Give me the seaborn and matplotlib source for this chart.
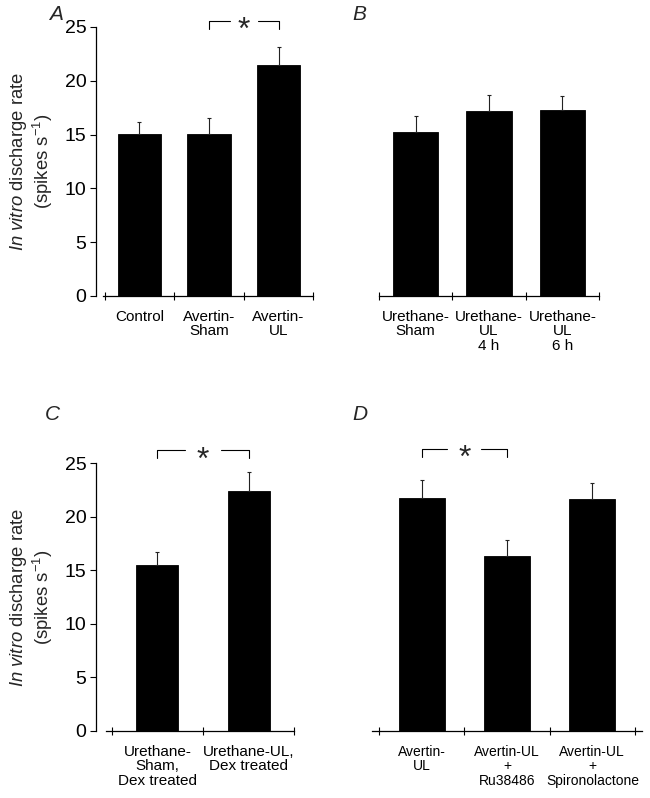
import matplotlib
matplotlib.use("Agg")
import matplotlib.pyplot as plt
import matplotlib.transforms as mtransforms
import seaborn as sns
import pandas as pd
import numpy as np

sns.set_theme(style="white")
plt.rcParams['font.family'] = ['Liberation Sans', 'DejaVu Sans']
plt.rcParams['mathtext.fontset'] = 'custom'
plt.rcParams['mathtext.rm'] = 'Liberation Sans'
plt.rcParams['mathtext.it'] = 'Liberation Sans:italic'

# ---- data ----
cats_a = ["Control", "Avertin-\nSham", "Avertin-\nUL"]
vals_a = [15.1, 15.1, 21.45]
errs_a = [1.1, 1.45, 1.7]

cats_b = ["Urethane-\nSham", "Urethane-\nUL\n4 h", "Urethane-\nUL\n6 h"]
vals_b = [15.25, 17.15, 17.3]
errs_b = [1.45, 1.5, 1.3]

cats_c = ["Urethane-\nSham,\nDex treated", "Urethane-UL,\nDex treated"]
vals_c = [15.5, 22.45]
errs_c = [1.25, 1.75]

cats_d = ["Avertin-\nUL", "Avertin-UL\n+\nRu38486", "Avertin-UL\n+\nSpironolactone"]
vals_d = [21.8, 16.3, 21.7]
errs_d = [1.65, 1.5, 1.5]

# significance brackets: (first category index, second category index, top level, end level)
sig_a = [(1, 2, 25.55, 24.8)]
sig_c = [(0, 1, 26.2, 25.5)]
sig_d = [(0, 1, 26.3, 25.6)]

y_ticks = [0, 5, 10, 15, 20, 25]
ylabel = "$\\it{In\\ vitro}$ discharge rate\n(spikes s$^{-1}$)"

W, H = 650, 798
fig = plt.figure(figsize=(W / 100, H / 100), dpi=100)


def axes_px(x0, x1, y_bottom, y_top):
    return fig.add_axes([x0 / W, 1 - y_bottom / H, (x1 - x0) / W, (y_bottom - y_top) / H])


def panel(ax, cats, vals, errs, width, xpad, show_y, sigs, xline_start=None, xfs=11.0):
    df = pd.DataFrame({"cat": cats, "val": vals})
    sns.barplot(data=df, x="cat", y="val", color="black", saturation=1,
                errorbar=None, width=width, ax=ax, edgecolor="black", linewidth=0.6)
    x = np.arange(len(cats))
    ax.errorbar(x, vals, yerr=[np.zeros(len(errs)), errs], fmt="none",
                ecolor="#222222", elinewidth=0.8, capsize=1.6, capthick=0.8)
    n = len(cats)
    ax.set_xlim(-0.5 - xpad, n - 0.5 + xpad)
    ax.set_ylim(0, 25)
    for s in ["top", "right"]:
        ax.spines[s].set_visible(False)
    ax.spines["bottom"].set_linewidth(0.9)
    ax.spines["bottom"].set_color("black")
    if xline_start is not None:
        ax.spines["bottom"].set_bounds(xline_start, n - 0.5)
    ax.set_xticks(x)
    ax.set_xticklabels(cats, fontsize=xfs, linespacing=1.05)
    ax.tick_params(axis="x", which="major", length=0, pad=10, colors="black")
    ax.set_xticks(np.arange(n + 1) - 0.5, minor=True)
    ax.tick_params(axis="x", which="minor", direction="inout", length=5.5, width=0.8,
                   color="black", bottom=True)
    ax.set_xlabel("")
    if show_y:
        ax.spines["left"].set_linewidth(0.9)
        ax.spines["left"].set_color("black")
        ax.set_yticks(y_ticks)
        ax.tick_params(axis="y", direction="out", length=4, width=0.8, left=True,
                       labelsize=14, pad=3, colors="black")
        ax.set_ylabel(ylabel, fontsize=13.3, labelpad=7, linespacing=1.1)
    else:
        ax.spines["left"].set_visible(False)
        ax.set_yticks([])
        ax.set_ylabel("")
    star_tr = mtransforms.offset_copy(ax.transData, fig=fig, x=0, y=-18, units="dots")
    for i, j, top, end in sigs:
        gap = 0.2
        mid = (i + j) / 2
        ax.plot([i, i, mid - gap], [end, top, top], color="black", lw=0.8, clip_on=False)
        ax.plot([mid + gap, j, j], [top, top, end], color="black", lw=0.8, clip_on=False)
        ax.text(mid, top, "*", ha="center", va="baseline", fontsize=23,
                transform=star_tr, clip_on=False)


axA = axes_px(96, 322, 296, 27)
panel(axA, cats_a, vals_a, errs_a, 0.62, 9 / 72.3, True, sig_a, xline_start=-0.53)

axB = axes_px(379, 599, 296, 27)
panel(axB, cats_b, vals_b, errs_b, 0.62, 0.0, False, [])

axC = axes_px(96, 310, 730.7, 463.3)
panel(axC, cats_c, vals_c, errs_c, 0.46, 17 / 98.5, True, sig_c, xline_start=-0.56)

axD = axes_px(372, 642, 730.7, 463.3)
panel(axD, cats_d, vals_d, errs_d, 0.54, 7 / 85.3, False, sig_d, xfs=10.0)

for lab, px, py in [("A", 49, 20), ("B", 352, 20), ("C", 45, 420), ("D", 352, 420)]:
    fig.text(px / W, 1 - py / H, lab, fontsize=15, style="italic", ha="left", va="baseline")

fig.savefig("out.png", dpi=100)
